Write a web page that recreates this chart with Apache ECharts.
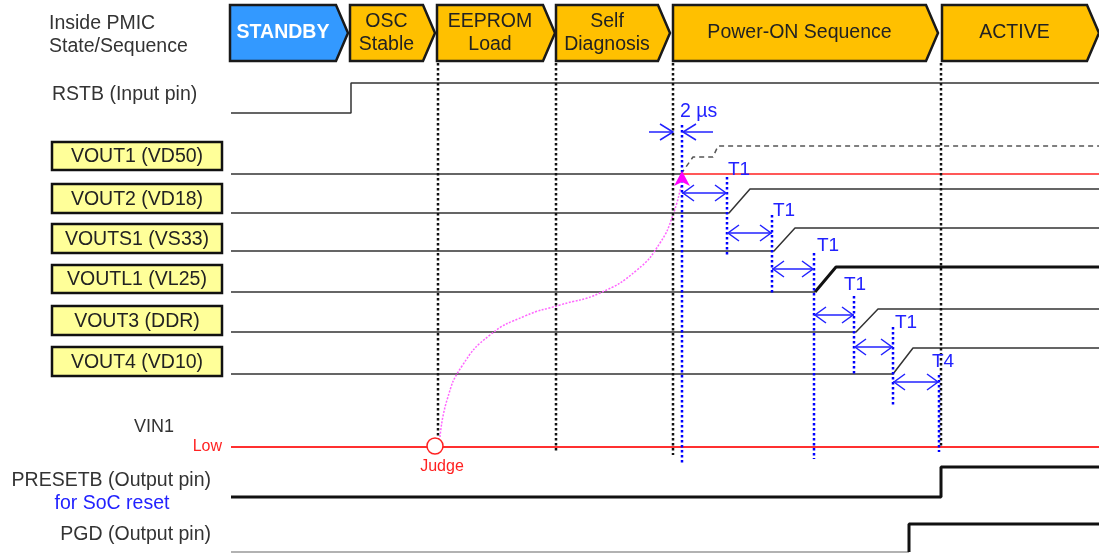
<!DOCTYPE html>
<html>
<head>
<meta charset="utf-8">
<script src="https://cdn.jsdelivr.net/npm/echarts@6/dist/echarts.min.js"></script>
<style>
html, body { margin: 0; padding: 0; background: #fff; }
#chart { width: 1099px; height: 553px; }
</style>
</head>
<body>
<div id="chart"></div>
<script>
// state / sequence bar (time units on x)
var stageNames = ['STANDBY', 'OSC\nStable', 'EEPROM\nLoad', 'Self\nDiagnosis', 'Power-ON Sequence', 'ACTIVE'];
var stageStart = [230, 350, 437, 556, 673, 942];
var stageEnd = [348, 435, 555, 670, 938, 1099];

// waveforms: [time, level]
var rstb = [[231, 113], [351, 113], [351, 83], [1099, 83]];
var vout1Low = [[231, 174], [681, 174]];
var vout1Ref = [[681, 174], [1099, 174]];
var vout1Rise = [[681, 174], [693, 157], [713, 157], [718, 146], [1099, 146]];
var vout2 = [[231, 213], [729, 213], [750, 189], [1099, 189]];
var vouts1 = [[231, 251], [774, 251], [795, 228], [1099, 228]];
var voutl1Low = [[231, 292], [815, 292]];
var voutl1High = [[815, 292], [836, 267], [1099, 267]];
var vout3 = [[231, 332], [856, 332], [878, 309], [1099, 309]];
var vout4 = [[231, 374], [893, 374], [913, 348], [1099, 348]];
var vin1Low = [[231, 447], [1099, 447]];
var presetb = [[231, 497], [941, 497], [941, 467], [1099, 467]];
var pgdLow = [[231, 552], [909, 552]];
var pgdHigh = [[909, 552], [909, 524], [1099, 524]];

// judge -> VOUT1 start (pink curve)
var judgeCurve = [[440, 437], [447, 400], [462, 366], [490, 335], [525, 316], [560, 305], [600, 293], [637, 270], [660, 243], [673, 215], [681, 186]];

// state boundary markers (black dotted): x, bottom
var boundX = [438, 556, 673, 941];
var boundEnd = [440, 452, 455, 447];

// timing markers (blue dotted): x, top, bottom
var markX = [682, 727, 772, 814, 854, 893, 939];
var markTop = [125, 177, 215, 253, 296, 327, 375];
var markBottom = [463, 257, 293, 459, 374, 405, 452];

// timing intervals: from, to, level, label
var intervals = [[682, 727, 193], [727, 772, 233], [772, 814, 269], [814, 854, 315], [854, 893, 347], [893, 939, 382]];
var intervalNames = ['T1', 'T1', 'T1', 'T1', 'T1', 'T4'];
var intervalLabelPos = [[728, 170], [773, 211], [817, 246], [844, 285], [895, 323], [932, 362]];

// signal labels
var boxNames = ['VOUT1 (VD50)', 'VOUT2 (VD18)', 'VOUTS1 (VS33)', 'VOUTL1 (VL25)', 'VOUT3 (DDR)', 'VOUT4 (VD10)'];
var boxTop = [142, 184, 224, 265, 306, 347];
var boxBottom = [170, 213, 253, 293, 335, 376];

var FONT = '"Liberation Sans", Arial, sans-serif';

var texts = [
    ['Inside PMIC', 49, 24, 'left', '#333', 19.5],
    ['State/Sequence', 49, 47, 'left', '#333', 19.5],
    ['RSTB (Input pin)', 52, 95, 'left', '#333', 19.5],
    ['VIN1', 174, 427, 'right', '#333', 18],
    ['Low', 222, 447, 'right', '#f22', 16],
    ['Judge', 442, 467, 'center', '#f22', 16],
    ['PRESETB (Output pin)', 211, 481, 'right', '#333', 19.5],
    ['for SoC reset', 112, 504, 'center', '#2222ff', 19.5],
    ['PGD (Output pin)', 211, 535, 'right', '#333', 19.5],
    ['2 \u00b5s', 680, 112, 'left', '#2222ff', 19.5]
];

function wave(data, color, width, type, smooth) {
    return {
        type: 'line',
        data: data,
        symbol: 'none',
        silent: true,
        smooth: smooth || false,
        lineStyle: { color: color, width: width, type: type || 'solid' },
        z: 3
    };
}

function head(tipX, fromX, y, color, len) {
    var d = tipX > fromX ? 1 : -1;
    len = len || 11;
    return {
        type: 'polyline',
        shape: { points: [[tipX - d * len, y - 8], [tipX, y], [tipX - d * len, y + 8]] },
        style: { stroke: color, lineWidth: 1.5, fill: null }
    };
}

var chart = echarts.init(document.getElementById('chart'));

var option = {
    animation: false,
    grid: { left: 0, right: 0, top: 0, bottom: 0 },
    xAxis: { type: 'value', min: 0, max: 1099, show: false },
    yAxis: { type: 'value', min: 0, max: 553, inverse: true, show: false },
    series: [
        // stage chevrons
        {
            type: 'custom',
            silent: true,
            z: 5,
            data: stageNames.map(function (n, i) { return [stageStart[i], stageEnd[i]]; }),
            renderItem: function (params, api) {
                var i = params.dataIndex;
                var a = api.coord([stageStart[i], 5]);
                var b = api.coord([stageEnd[i], 61]);
                var tip = 12, mid = (a[1] + b[1]) / 2;
                return {
                    type: 'group',
                    children: [
                        {
                            type: 'polygon',
                            shape: { points: [[a[0], a[1]], [b[0] - tip, a[1]], [b[0], mid], [b[0] - tip, b[1]], [a[0], b[1]]] },
                            style: { fill: i === 0 ? '#3399ff' : '#ffc000', stroke: '#1a1a1a', lineWidth: 2.5 }
                        },
                        {
                            type: 'text',
                            style: {
                                text: stageNames[i], x: (a[0] + b[0] - tip) / 2, y: mid,
                                align: 'center', verticalAlign: 'middle', lineHeight: 23,
                                font: (i === 0 ? 'bold ' : '') + '19.5px ' + FONT,
                                fill: i === 0 ? '#fff' : '#222'
                            }
                        }
                    ]
                };
            }
        },
        // VOUT label boxes
        {
            type: 'custom',
            silent: true,
            z: 5,
            data: boxNames.map(function (n, i) { return [51, boxTop[i]]; }),
            renderItem: function (params, api) {
                var i = params.dataIndex;
                var a = api.coord([52, boxTop[i]]);
                var b = api.coord([222, boxBottom[i]]);
                return {
                    type: 'group',
                    children: [
                        {
                            type: 'rect',
                            shape: { x: a[0], y: a[1], width: b[0] - a[0], height: b[1] - a[1] },
                            style: { fill: '#ffff99', stroke: '#111', lineWidth: 2.5 }
                        },
                        {
                            type: 'text',
                            style: {
                                text: boxNames[i], x: (a[0] + b[0]) / 2, y: (a[1] + b[1]) / 2 + 1,
                                align: 'center', verticalAlign: 'middle',
                                font: '19.5px ' + FONT, fill: '#222'
                            }
                        }
                    ]
                };
            }
        },
        // plain text labels
        {
            type: 'custom',
            silent: true,
            z: 6,
            data: texts.map(function (t) { return [t[1], t[2]]; }),
            renderItem: function (params, api) {
                var t = texts[params.dataIndex];
                var p = api.coord([t[1], t[2]]);
                return {
                    type: 'text',
                    style: {
                        text: t[0], x: p[0], y: p[1], align: t[3], verticalAlign: 'middle',
                        font: t[5] + 'px ' + FONT, fill: t[4]
                    }
                };
            }
        },
        // vertical dotted markers
        {
            type: 'custom',
            silent: true,
            z: 4,
            data: boundX.concat(markX).map(function (x) { return [x, 0]; }),
            renderItem: function (params, api) {
                var i = params.dataIndex, nb = boundX.length;
                var blue = i >= nb;
                var x = blue ? markX[i - nb] : boundX[i];
                var y0 = blue ? markTop[i - nb] : 63;
                var y1 = blue ? markBottom[i - nb] : boundEnd[i];
                var a = api.coord([x, y0]), b = api.coord([x, y1]);
                return {
                    type: 'line',
                    shape: { x1: a[0], y1: a[1], x2: b[0], y2: b[1] },
                    style: { stroke: blue ? '#0000ff' : '#111', lineWidth: 2.5, lineDash: [2.5, 2.5] }
                };
            }
        },
        // interval arrows and labels
        {
            type: 'custom',
            silent: true,
            z: 6,
            data: intervals.map(function (d) { return [d[0], d[2]]; }),
            renderItem: function (params, api) {
                var i = params.dataIndex, d = intervals[i];
                var a = api.coord([d[0], d[2]]), b = api.coord([d[1], d[2]]);
                var l = api.coord(intervalLabelPos[i]);
                return {
                    type: 'group',
                    children: [
                        { type: 'line', shape: { x1: a[0], y1: a[1], x2: b[0], y2: b[1] }, style: { stroke: '#2222ff', lineWidth: 1.5 } },
                        head(a[0] + 1, b[0], a[1], '#2222ff'),
                        head(b[0] - 1, a[0], b[1], '#2222ff'),
                        {
                            type: 'text',
                            style: { text: intervalNames[i], x: l[0], y: l[1], align: 'left', verticalAlign: 'middle', font: '19px ' + FONT, fill: '#2222ff' }
                        }
                    ]
                };
            }
        },
        // 2 us arrows, judge circle and curve head
        {
            type: 'custom',
            silent: true,
            z: 6,
            data: [[0, 0]],
            renderItem: function (params, api) {
                var l1 = api.coord([649, 132]), r1 = api.coord([673, 132]);
                var l2 = api.coord([713, 132]), r2 = api.coord([683, 132]);
                var c = api.coord([435, 446]);
                var t = api.coord([682, 171]);
                return {
                    type: 'group',
                    children: [
                        { type: 'line', shape: { x1: l1[0], y1: l1[1], x2: r1[0], y2: r1[1] }, style: { stroke: '#2222ff', lineWidth: 1.5 } },
                        head(r1[0], l1[0], r1[1], '#2222ff', 13),
                        { type: 'line', shape: { x1: l2[0], y1: l2[1], x2: r2[0], y2: r2[1] }, style: { stroke: '#2222ff', lineWidth: 1.5 } },
                        head(r2[0], l2[0], r2[1], '#2222ff', 13),
                        { type: 'circle', shape: { cx: c[0], cy: c[1], r: 8 }, style: { fill: '#fff', stroke: '#f22', lineWidth: 1.5 } },
                        {
                            type: 'polygon',
                            shape: { points: [[t[0], t[1]], [t[0] + 8, t[1] + 15], [t[0], t[1] + 11], [t[0] - 8, t[1] + 15]] },
                            style: { fill: '#ff00ff' }
                        }
                    ]
                };
            }
        },
        wave(rstb, '#333', 1.5),
        wave(vout1Low, '#333', 1.5),
        wave(vout1Ref, '#ff2020', 1.5),
        wave(vout1Rise, '#555', 1.5, [5, 4]),
        wave(vout2, '#333', 1.5),
        wave(vouts1, '#333', 1.5),
        wave(voutl1Low, '#333', 1.5),
        wave(voutl1High, '#111', 3),
        wave(vout3, '#333', 1.5),
        wave(vout4, '#333', 1.5),
        wave(vin1Low, '#ff3030', 2),
        wave(presetb, '#111', 3),
        wave(pgdLow, '#999', 1.5),
        wave(pgdHigh, '#111', 3),
        wave(judgeCurve, '#ff66ff', 1.5, [2, 1.5], 0.5)
    ]
};

chart.setOption(option);
</script>
</body>
</html>
